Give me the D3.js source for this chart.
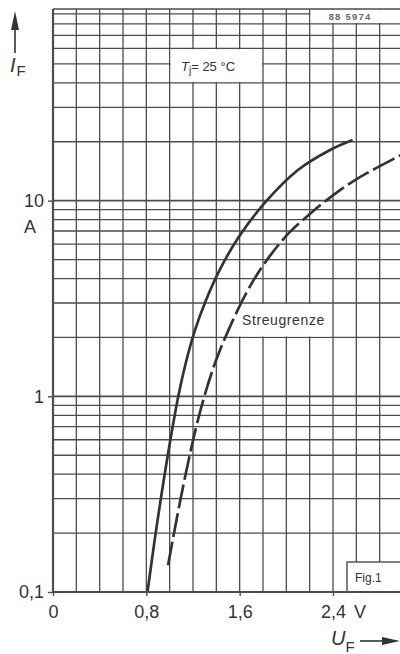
<!DOCTYPE html>
<html><head><meta charset="utf-8">
<script src="https://cdn.jsdelivr.net/npm/d3@7/dist/d3.min.js"></script>
<style>html,body{margin:0;padding:0;background:#fff;}svg{display:block}</style>
</head><body>
<script>
// ---- data ----
const uTicks = [0, 0.8, 1.6, 2.4];
const uTickLabels = ["0", "0,8", "1,6", "2,4"];
const iTicks = [0.1, 1, 10];
const iTickLabels = ["0,1", "1", "10"];
const uGrid = [0.2, 0.4, 0.6, 0.8, 1.0, 1.2, 1.4, 1.6, 1.8, 2.0, 2.2, 2.4, 2.6, 2.8, 3.0];
const iGrid = [0.2, 0.3, 0.4, 0.5, 0.6, 0.7, 0.8, 0.9, 1, 2, 3, 4, 5, 6, 7, 8, 9, 10, 20, 30, 40, 50, 60, 70, 80, 90];
// typical forward characteristic (solid)
const typU = [0.81, 0.88, 0.984, 1.074, 1.138, 1.217, 1.312, 1.428, 1.592, 1.822, 2.097, 2.371, 2.568];
const typI = [0.1, 0.2, 0.5, 1.0, 1.48, 2.18, 3.11, 4.42, 6.52, 9.85, 14.3, 18.1, 20.4];
// Streugrenze (dashed)
const limU = [0.986, 1.123, 1.26, 1.389, 1.504, 1.671, 1.834, 2.023, 2.211, 2.349, 2.589, 2.949, 3.0];
const limI = [0.137, 0.365, 0.832, 1.48, 2.18, 3.5, 4.98, 6.84, 8.65, 10.1, 12.75, 16.7, 17.3];

const W = 400, H = 654;
const ink = "#333";
const gridC = "#4d4d4d";
const font = "'Liberation Sans', Arial, sans-serif";

const svg = d3.select("body").append("svg").attr("width", W).attr("height", H);
svg.append("rect").attr("width", W).attr("height", H).attr("fill", "#fff");

const x = d3.scaleLinear().domain([0, 3]).range([53, 403]);
const y = d3.scaleLog().domain([0.1, 100]).range([592, 5]);
const yTop = 9; // upper frame of the printed grid

svg.append("clipPath").attr("id", "plot").append("rect")
  .attr("x", x(0)).attr("y", yTop).attr("width", W - x(0)).attr("height", y(0.1) - yTop);

const g = svg.append("g").attr("clip-path", "url(#plot)");

// grid
g.selectAll("line.v").data(uGrid).join("line").attr("class", "v")
  .attr("x1", d => x(d)).attr("x2", d => x(d))
  .attr("y1", y(0.1)).attr("y2", yTop)
  .attr("stroke", gridC).attr("stroke-width", 1.3);
g.selectAll("line.h").data(iGrid).join("line").attr("class", "h")
  .attr("x1", x(0)).attr("x2", W)
  .attr("y1", d => y(d)).attr("y2", d => y(d))
  .attr("stroke", gridC).attr("stroke-width", d => (d === 1 || d === 10) ? 1.6 : 1.3);

// label boxes (white patches in the grid)
function patch(u0, u1, yA, yB) {
  g.append("rect").attr("x", x(u0) + 1).attr("y", yA + 1)
    .attr("width", x(u1) - x(u0) - 2).attr("height", yB - yA - 2)
    .attr("fill", "#fff");
}
patch(1.0, 1.8, y(60), y(40));
patch(2.2, 3.0, yTop, y(80));
g.append("rect").attr("x", x(1.6) - 3).attr("y", y(3) + 1)
  .attr("width", x(2.4) - x(1.6)).attr("height", y(2) - y(3) - 2).attr("fill", "#fff");
// Fig.1 box
g.append("rect").attr("x", x(2.52)).attr("y", y(0.1) - 30)
  .attr("width", W - x(2.52) + 5).attr("height", 30)
  .attr("fill", "#fff").attr("stroke", gridC).attr("stroke-width", 1.4);

// curves
const lineC = d3.line().x(d => x(d[0])).y(d => y(d[1])).curve(d3.curveCatmullRom.alpha(0.5));
g.append("path").datum(typU.map((u, i) => [u, typI[i]]))
  .attr("d", lineC).attr("fill", "none").attr("stroke", ink).attr("stroke-width", 2.7);
g.append("path").datum(limU.map((u, i) => [u, limI[i]]))
  .attr("d", lineC).attr("fill", "none").attr("stroke", ink).attr("stroke-width", 2.7)
  .attr("stroke-dasharray", "24,5");

// borders
svg.append("line").attr("x1", x(0)).attr("x2", x(0)).attr("y1", yTop).attr("y2", y(0.1))
  .attr("stroke", gridC).attr("stroke-width", 2.2);
svg.append("line").attr("x1", x(0)).attr("x2", W).attr("y1", y(0.1)).attr("y2", y(0.1))
  .attr("stroke", gridC).attr("stroke-width", 2.2);
svg.append("line").attr("x1", x(0)).attr("x2", W).attr("y1", yTop).attr("y2", yTop)
  .attr("stroke", gridC).attr("stroke-width", 1.5);

// axes
const ax = svg.append("g").attr("transform", `translate(0,${y(0.1)})`)
  .call(d3.axisBottom(x).tickValues(uTicks).tickFormat((d, i) => uTickLabels[i]).tickSize(4).tickPadding(9));
const ay = svg.append("g").attr("transform", `translate(${x(0)},0)`)
  .call(d3.axisLeft(y).tickValues(iTicks).tickFormat((d, i) => iTickLabels[i]).tickSize(5).tickPadding(4));
[ax, ay].forEach(a => {
  a.select(".domain").remove();
  a.selectAll("line").attr("stroke", gridC).attr("stroke-width", 1.4);
  a.selectAll("text").attr("font-family", font).attr("font-size", 18).attr("fill", ink);
});

// unit labels
svg.append("text").attr("x", x(2.4) + 21).attr("y", 618).text("V")
  .attr("font-family", font).attr("font-size", 18).attr("fill", ink);
svg.append("text").attr("x", 30).attr("y", 233).attr("text-anchor", "middle").text("A")
  .attr("font-family", font).attr("font-size", 18).attr("fill", ink);

// I_F with arrow
svg.append("line").attr("x1", 15).attr("x2", 15).attr("y1", 53).attr("y2", 24)
  .attr("stroke", ink).attr("stroke-width", 1.6);
svg.append("path").attr("d", "M15,11 L11,30 L19,30 Z").attr("fill", ink);
const tI = svg.append("text").attr("x", 10).attr("y", 72).attr("font-family", font).attr("fill", ink);
tI.append("tspan").attr("font-size", 20).attr("font-style", "italic").text("I");
tI.append("tspan").attr("font-size", 15).attr("dx", 1).attr("dy", 4).text("F");

// U_F with arrow
const tU = svg.append("text").attr("x", 331).attr("y", 645).attr("font-family", font).attr("fill", ink);
tU.append("tspan").attr("font-size", 20).attr("font-style", "italic").text("U");
tU.append("tspan").attr("font-size", 15).attr("dy", 7).text("F");
svg.append("line").attr("x1", 360).attr("x2", 386).attr("y1", 641).attr("y2", 641)
  .attr("stroke", ink).attr("stroke-width", 1.6);
svg.append("path").attr("d", "M400,641 L382,637 L382,645 Z").attr("fill", ink);

// annotations
const tj = svg.append("text").attr("x", 181).attr("y", 71).attr("font-family", font).attr("fill", ink);
tj.append("tspan").attr("font-size", 13).attr("font-style", "italic").text("T");
tj.append("tspan").attr("font-size", 10).attr("dy", 3).text("j");
tj.append("tspan").attr("font-size", 13).attr("dy", -3).text("= 25 °C");

svg.append("text").attr("x", 350).attr("y", 20).attr("text-anchor", "middle")
  .attr("font-family", font).attr("font-size", 9.5).attr("font-weight", "bold").attr("fill", "#666")
  .attr("letter-spacing", 1.2).text("88  5974");

svg.append("text").attr("x", 242).attr("y", 325).attr("font-family", font)
  .attr("font-size", 14).attr("letter-spacing", 0.6).attr("fill", ink).text("Streugrenze");

svg.append("text").attr("x", 355).attr("y", 582).attr("font-family", font)
  .attr("font-size", 12).attr("fill", ink).text("Fig.1");
</script>
</body></html>
